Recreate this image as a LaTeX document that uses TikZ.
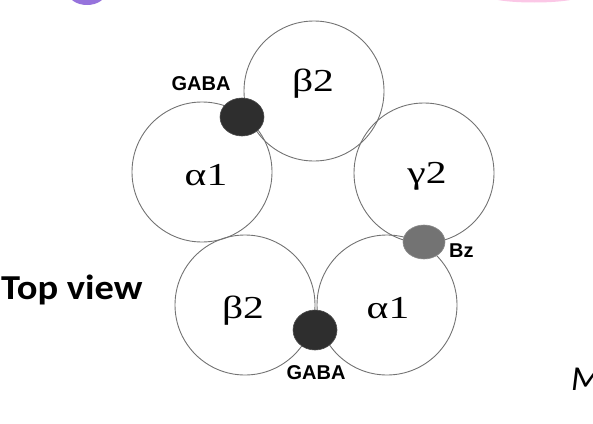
\documentclass[tikz,border=0pt]{standalone}
\usepackage{fontspec}
\usetikzlibrary{shapes.geometric}
\setmainfont{Liberation Serif}
\newfontfamily\labfont{Liberation Sans}
\newfontfamily\calfont{Carlito}
\begin{document}
\begin{tikzpicture}[x=1pt,y=-1pt,
  sub/.style={circle,draw=black!55,line width=0.9pt,minimum size=140pt,inner sep=0pt},
  greek/.style={anchor=base,inner sep=0pt,font=\fontsize{32}{32}\selectfont},
  site/.style={ellipse,fill=black!82,draw=black!70,line width=0.6pt,inner sep=0pt},
  lbl/.style={font=\labfont\bfseries\fontsize{20}{20}\selectfont,inner sep=0pt,anchor=base}]
\useasboundingbox (0,0) rectangle (593,423);
\fill[fill=violet!50!blue!55] (87,-8) ellipse (19 and 13);
\fill[fill=magenta!22] (534,-4) ellipse (46 and 6.5);
\node[sub] (b2t) at (314,91) {};
\node[sub] (a1l) at (202,172) {};
\node[sub] (g2) at (424,173) {};
\node[sub] (b2b) at (245,305) {};
\node[sub] (a1r) at (387,305) {};
\node[greek] (tb2t) at (313,91) {\scalebox{1.3}[1]{β2}};
\node[greek] (ta1l) at (206,185) {\scalebox{1.3}[1]{α1}};
\node[greek] (tg2) at (427,183) {\scalebox{1.3}[1]{γ2}};
\node[greek] (tb2b) at (243,318) {\scalebox{1.3}[1]{β2}};
\node[greek] (ta1r) at (388,318) {\scalebox{1.3}[1]{α1}};
\node[site,minimum width=44pt,minimum height=38pt] (s1) at (242,117) {};
\node[site,fill=black!55,draw=black!45,minimum width=42pt,minimum height=34pt] (s2) at (424,242) {};
\node[site,minimum width=44pt,minimum height=40pt] (s3) at (315,330) {};
\node[lbl] (l1) at (201,90) {GABA};
\node[lbl,anchor=base west] (l2) at (449,257) {Bz};
\node[lbl] (l3) at (316,379) {GABA};
\node[font=\calfont\bfseries\fontsize{35}{35}\selectfont,anchor=base west,inner sep=0pt] (tv) at (1,299) {\scalebox{1.1}[1]{Top view}};
\node[font=\calfont\itshape\fontsize{35}{35}\selectfont,anchor=base west,inner sep=0pt] (m) at (571,390) {M};
\end{tikzpicture}
\end{document}
